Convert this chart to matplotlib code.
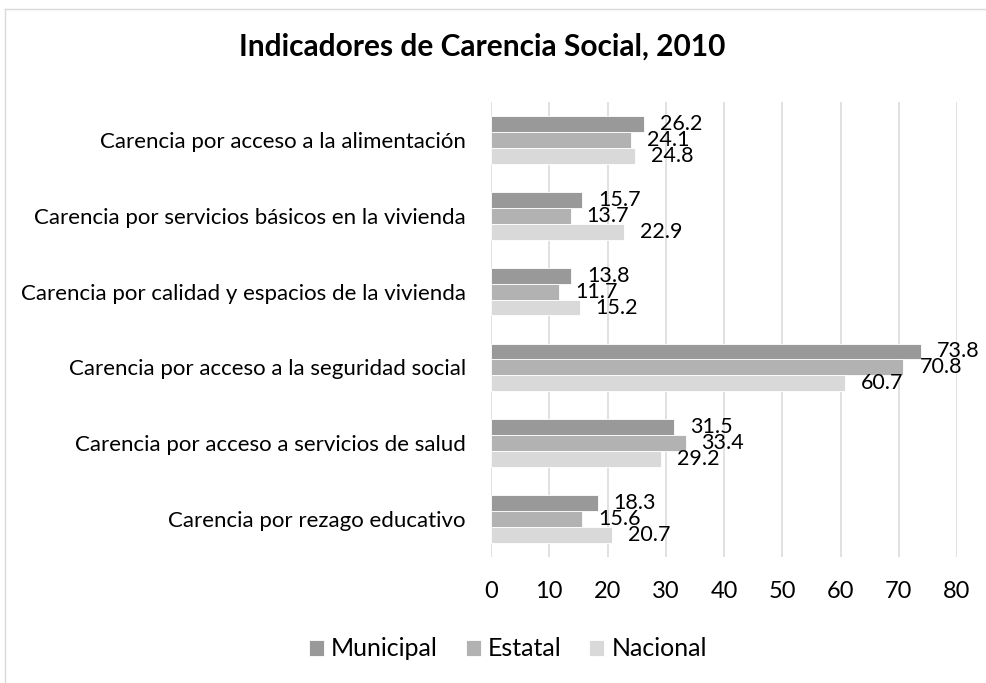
import matplotlib
matplotlib.use("Agg")
import matplotlib.pyplot as plt
from matplotlib.lines import Line2D
import numpy as np

plt.rcParams["font.family"] = ["Lato", "DejaVu Sans"]

categories = [
    "Carencia por acceso a la alimentación",
    "Carencia por servicios básicos en la vivienda",
    "Carencia por calidad y espacios de la vivienda",
    "Carencia por acceso a la seguridad social",
    "Carencia por acceso a servicios de salud",
    "Carencia por rezago educativo",
]
municipal = [26.2, 15.7, 13.8, 73.8, 31.5, 18.3]
estatal = [24.1, 13.7, 11.7, 70.8, 33.4, 15.6]
nacional = [24.8, 22.9, 15.2, 60.7, 29.2, 20.7]
series_names = ["Municipal", "Estatal", "Nacional"]
colors = ["#999999", "#b2b2b2", "#d9d9d9"]
xticks = [0, 10, 20, 30, 40, 50, 60, 70, 80]

W, H = 986, 683
fig = plt.figure(figsize=(W / 100, H / 100), dpi=100)
ax = fig.add_axes([491 / W, 1 - 557 / H, (957 - 491) / W, (557 - 102) / H])

y = np.arange(len(categories))
bh = 0.21
for i, (vals, name, col) in enumerate(zip([municipal, estatal, nacional], series_names, colors)):
    pos = y + (i - 1) * bh
    ax.barh(pos, vals, height=bh, color=col, edgecolor="white",
            linewidth=0.6, label=name, zorder=3)
    for p, v in zip(pos, vals):
        ax.annotate(f"{v:.1f}", (v, p), xytext=(11.5, 0), textcoords="offset points",
                    ha="left", va="center", fontsize=15.5, color="black", zorder=4)

ax.set_xlim(0, 80)
ax.set_ylim(len(categories) - 0.5, -0.5)
ax.set_xticks(xticks)
ax.set_yticks(y)
ax.set_yticklabels(categories, fontsize=16)
ax.tick_params(axis="both", length=0)
ax.tick_params(axis="x", pad=17, labelsize=17)
ax.tick_params(axis="y", pad=18)
ax.grid(axis="x", color="#d9d9d9", linewidth=1.1, zorder=0)
for s in ax.spines.values():
    s.set_visible(False)

fig.text(482 / W, 1 - 47 / H, "Indicadores de Carencia Social, 2010",
         ha="center", va="center", fontsize=21.5, fontweight="bold")

fig.legend(loc="center", bbox_to_anchor=(508 / W, 1 - 649 / H), ncol=3,
           frameon=False, fontsize=18, handlelength=0.6, handleheight=0.6,
           handletextpad=0.3, columnspacing=1.1)

# outer chart border
fig.add_artist(Line2D([4.5 / W, 4.5 / W], [0, 1 - 8.5 / H], color="#d9d9d9", linewidth=1.0))
fig.add_artist(Line2D([4.5 / W, 1], [1 - 8.5 / H, 1 - 8.5 / H], color="#d9d9d9", linewidth=1.0))

fig.savefig("out.png", dpi=100)
